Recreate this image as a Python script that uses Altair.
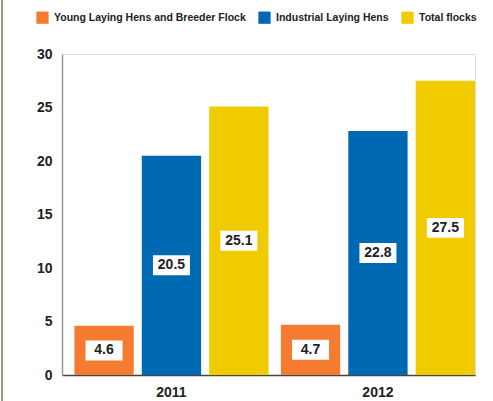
import altair as alt
import pandas as pd

years = ["2011", "2012"]
series = ["Young Laying Hens and Breeder Flock", "Industrial Laying Hens", "Total flocks"]
young = [4.6, 4.7]
industrial = [20.5, 22.8]
total = [25.1, 27.5]
colors = ["#F47B30", "#0069B4", "#F0CB00"]

rows = []
for i, y in enumerate(years):
    for s, vals in zip(series, [young, industrial, total]):
        rows.append({"year": y, "series": s, "value": vals[i], "label": f"{vals[i]:.1f}"})
df = pd.DataFrame(rows)

reg = "Liberation Sans, Arial, Helvetica"

x_enc = alt.X("year:N", title=None,
              scale=alt.Scale(paddingInner=0.06, paddingOuter=0.03, align=1),
              axis=alt.Axis(labelAngle=0, labelFont=reg, labelFontSize=14, labelFontWeight="bold",
                            labelColor="#222222", labelPadding=10, ticks=False,
                            domainColor="#444444", domainWidth=1.5))
xoff = alt.XOffset("series:N", sort=series, scale=alt.Scale(paddingInner=0.12, paddingOuter=0))

base = alt.Chart(df)

bars = base.mark_bar().encode(
    x=x_enc,
    xOffset=xoff,
    y=alt.Y("value:Q", title=None,
            scale=alt.Scale(domain=[0, 30]),
            axis=alt.Axis(values=[0, 5, 10, 15, 20, 25, 30], grid=False, ticks=False,
                          labelFont=reg, labelFontSize=14, labelFontWeight="bold",
                          labelColor="#222222", labelPadding=10,
                          domainColor="#999999", domainWidth=1.5)),
    color=alt.Color("series:N", sort=series,
                    scale=alt.Scale(domain=series, range=colors),
                    legend=alt.Legend(title=None, orient="none", direction="horizontal",
                                      legendX=-26, legendY=-43,
                                      symbolType="square", symbolSize=150, symbolStrokeWidth=0,
                                      symbolOpacity=1,
                                      labelFont=reg, labelFontSize=10.5, labelFontWeight="bold",
                                      labelColor="#222222", labelOffset=5, columnPadding=12,
                                      labelLimit=400)),
)

mid = base.transform_calculate(mid="datum.value / 2")

boxes = mid.mark_point(
    shape="M-1,-0.54L1,-0.54L1,0.54L-1,0.54Z", filled=True, fill="white", opacity=1,
    size=1369, strokeWidth=0
).encode(
    x=alt.X("year:N"),
    xOffset=xoff,
    y=alt.Y("mid:Q"),
)

texts = mid.mark_text(
    font=reg, fontSize=14, fontWeight="bold", color="#222222", baseline="middle"
).encode(
    x=alt.X("year:N"),
    xOffset=xoff,
    y=alt.Y("mid:Q"),
    text="label:N",
)

frame = alt.Chart(pd.DataFrame({"k": [0]})).mark_rule(color="#8E9E84", strokeWidth=2).encode(
    x=alt.value(-60), y=alt.value(-54), y2=alt.value(347)
)

chart = alt.layer(bars, boxes, texts, frame).properties(
    width=413, height=321,
    autosize=alt.AutoSizeParams(type="none"),
    padding={"left": 62, "top": 54, "right": 18, "bottom": 26},
).configure_view(stroke=None).configure(background="white")

chart.save("out.html", embed_options={"renderer": "svg", "actions": False})
